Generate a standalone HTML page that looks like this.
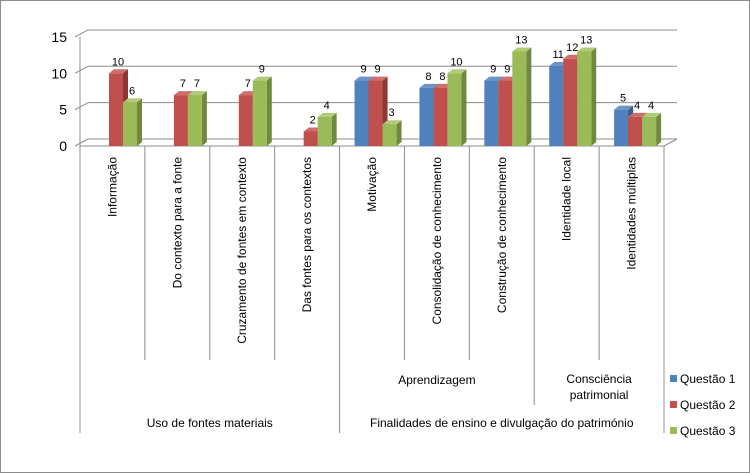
<!DOCTYPE html>
<html><head><meta charset="utf-8">
<style>
body{margin:0;background:#fff;}
svg{display:block;font-family:"Liberation Sans",sans-serif;}
</style></head>
<body>
<svg id="chart" width="750" height="473" viewBox="0 0 750 473" xmlns="http://www.w3.org/2000/svg">
<rect x="0.5" y="0.5" width="749" height="472" fill="#fff" stroke="#8c8c8c" stroke-width="1"/>
<g id="grid"></g>
<g id="bars"></g>
<g id="table"></g>
<g id="legend"></g>
</svg>
<script>
const categories=["Informação","Do contexto para a fonte","Cruzamento de fontes em contexto","Das fontes para os contextos","Motivação","Consolidação de conhecimento","Construção de conhecimento","Identidade local","Identidades múltiplas"];
const seriesNames=["Questão 1","Questão 2","Questão 3"];
const q1=[null,null,null,null,9,8,9,11,5];
const q2=[10,7,7,2,9,8,9,12,4];
const q3=[6,7,9,4,3,10,13,13,4];
const yTicks=[0,5,10,15];
const level2=[{label:"Aprendizagem",from:4,to:7},{label:"Consciência|patrimonial",from:7,to:9}];
const level3=[{label:"Uso de fontes materiais",from:0,to:4},{label:"Finalidades de ensino e divulgação do património",from:4,to:9}];

const NS="http://www.w3.org/2000/svg";
const colors=["#4F81BD","#C0504D","#9BBB59"], sides=["#385D8A","#8C3836","#71893F"], tops=["#6C95CA","#CF6E6B","#B0CC78"];
const X0=80,CW=(664-80)/9,Y0=146,PX=7.27,DX=8,DY=-7;
const yS=v=>Y0-v*PX;
const xS=i=>X0+i*CW;
function el(tag,attrs,parent,text){const e=document.createElementNS(NS,tag);for(const k in attrs)e.setAttribute(k,attrs[k]);if(text!=null)e.textContent=text;parent.appendChild(e);return e;}
const grid=document.getElementById('grid');
// back wall gridlines + left wall
yTicks.forEach(t=>{
  const y=yS(t);
  const g=el('line',{x1:X0+DX,y1:y+DY,x2:664+DX+5,y2:y+DY,stroke:"#8c8c8c","stroke-width":1},grid);
  
  el('line',{x1:X0-5,y1:y,x2:X0+DX,y2:y+DY,stroke:"#8c8c8c"},grid);
  const tl=el('text',{x:X0-13,y:y+5,"text-anchor":"end","font-size":14,fill:"#000"},grid,String(t));
  
});
el('line',{x1:X0,y1:yS(15),x2:X0,y2:Y0,stroke:"#8c8c8c"},grid);
el('line',{x1:X0,y1:Y0,x2:664,y2:Y0,stroke:"#8c8c8c"},grid);
el('line',{x1:664,y1:Y0,x2:664+DX+5,y2:Y0+DY,stroke:"#8c8c8c"},grid);

const bars=document.getElementById('bars');
const series=[q1,q2,q3];
const BW=14;
categories.forEach((c,i)=>{
  series.forEach((s,k)=>{
    const v=s[i]; if(v==null) return;
    const x=xS(i)+15+k*BW, y=yS(v), w=BW, dx=5, dy=-4;
    const g=el('g',{},bars);
    
    el('polygon',{points:`${x+w},${y} ${x+w+dx},${y+dy} ${x+w+dx},${Y0+dy} ${x+w},${Y0}`,fill:sides[k]},g);
    el('polygon',{points:`${x},${y} ${x+dx},${y+dy} ${x+w+dx},${y+dy} ${x+w},${y}`,fill:tops[k]},g);
    el('rect',{x:x,y:y,width:w,height:Y0-y,fill:colors[k]},g);
    const t=el('text',{x:x+w/2+2,y:y-8,"text-anchor":"middle","font-size":11,fill:"#000"},bars,String(v));
    
  });
});

const tb=document.getElementById('table');
const ln=(x1,y1,x2,y2)=>el('line',{x1,y1,x2,y2,stroke:"#8c8c8c"},tb);
ln(X0,Y0,X0,433);
for(let i=1;i<=9;i++){
  const x=xS(i);
  let bottom=360;
  if(i===4||i===9) bottom=433; else if(i===7) bottom=405;
  ln(x,Y0,x,bottom);
}
categories.forEach((c,i)=>{
  const cx=xS(i)+CW/2+4;
  const t=el('text',{transform:`translate(${cx},${Y0+11}) rotate(-90)`,"text-anchor":"end","font-size":12,fill:"#000"},tb,c);
  
});
level2.forEach(g=>{
  const cx=(xS(g.from)+xS(g.to))/2;const parts=g.label.split('|');
  parts.forEach((p,j)=>{
    const y=parts.length>1?383+j*16:384;
    const t=el('text',{x:cx,y:y,"text-anchor":"middle","font-size":12,fill:"#000"},tb,p);
    
  });
});
level3.forEach(g=>{
  const cx=(xS(g.from)+xS(g.to))/2;
  const t=el('text',{x:cx,y:427,"text-anchor":"middle","font-size":12,fill:"#000"},tb,g.label);
  
});

const lg=document.getElementById('legend');
seriesNames.forEach((n,k)=>{
  const y=383+k*26;
  const g=el('g',{},lg);
  
  el('rect',{x:670,y:y-8,width:7,height:7,fill:colors[k]},g);
  el('text',{x:680,y:y,"font-size":12,fill:"#000"},g,n);
});
</script>
</body></html>
